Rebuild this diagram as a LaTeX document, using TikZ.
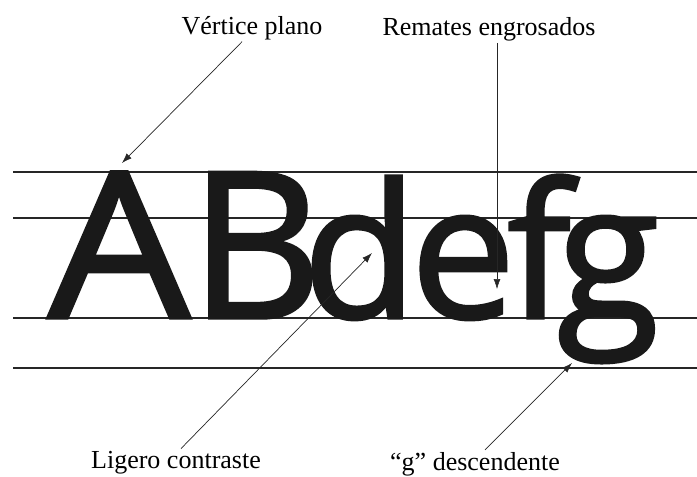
\documentclass[tikz,border=0pt]{standalone}
\usepackage{fontspec}
\setmainfont{Liberation Serif}
\newfontfamily\letrafont[FakeBold=1.7]{Open Sans}
\usetikzlibrary{arrows.meta}

\begin{document}
\begin{tikzpicture}[x=1pt, y=-1pt,
    guia/.style={line width=1.3pt, color=black!85},
    flecha/.style={-{Latex[length=10pt, width=7pt]}, line width=0.7pt, color=black!85},
    rotulo/.style={font=\fontsize{26}{30}\selectfont, inner sep=2pt, anchor=base},
    mayus/.style={font=\letrafont\fontsize{204}{204}\selectfont,
      inner sep=0pt, anchor=base, color=black!90},
    minus/.style={font=\letrafont\fontsize{187}{187}\selectfont,
      inner sep=0pt, anchor=base, color=black!90}
  ]
  \useasboundingbox (0,0) rectangle (697,477);

  % Guide lines
  \draw[guia] (13,172) -- (697,172);
  \draw[guia] (13,218) -- (697,218);
  \draw[guia] (13,318) -- (697,318);
  \draw[guia] (13,368) -- (697,368);

  % Letters
  \node[mayus, xscale=1.1] (letA) at (119,318) {A};
  \node[mayus] (letB) at (256,318) {B};
  \node[minus] (letd) at (360,318) {d};
  \node[minus] (lete) at (463,318) {e};
  \node[minus] (letf) at (539,318) {f};
  \node[minus] (letg) at (608,318) {g};

  % Labels
  \node[rotulo] (vertice) at (252,34)  {Vértice plano};
  \node[rotulo] (remates) at (489,35)  {Remates engrosados};
  \node[rotulo] (ligero)  at (176,468) {Ligero contraste};
  \node[rotulo] (gdesc)   at (475,470) {“g” descendente};

  % Targets
  \coordinate (apice)    at (122,163);
  \coordinate (remate)   at (497,289);
  \coordinate (contraste) at (372,253);
  \coordinate (cola)     at (572,363);

  % Arrows
  \draw[flecha] ([xshift=-10pt]vertice.south) -- (apice);
  \draw[flecha, line width=0.5pt] (remates.south -| remate) -- (remate);
  \draw[flecha] ([xshift=5pt]ligero.north) -- (contraste);
  \draw[flecha] ([xshift=10pt]gdesc.north) -- (cola);

\end{tikzpicture}
\end{document}
